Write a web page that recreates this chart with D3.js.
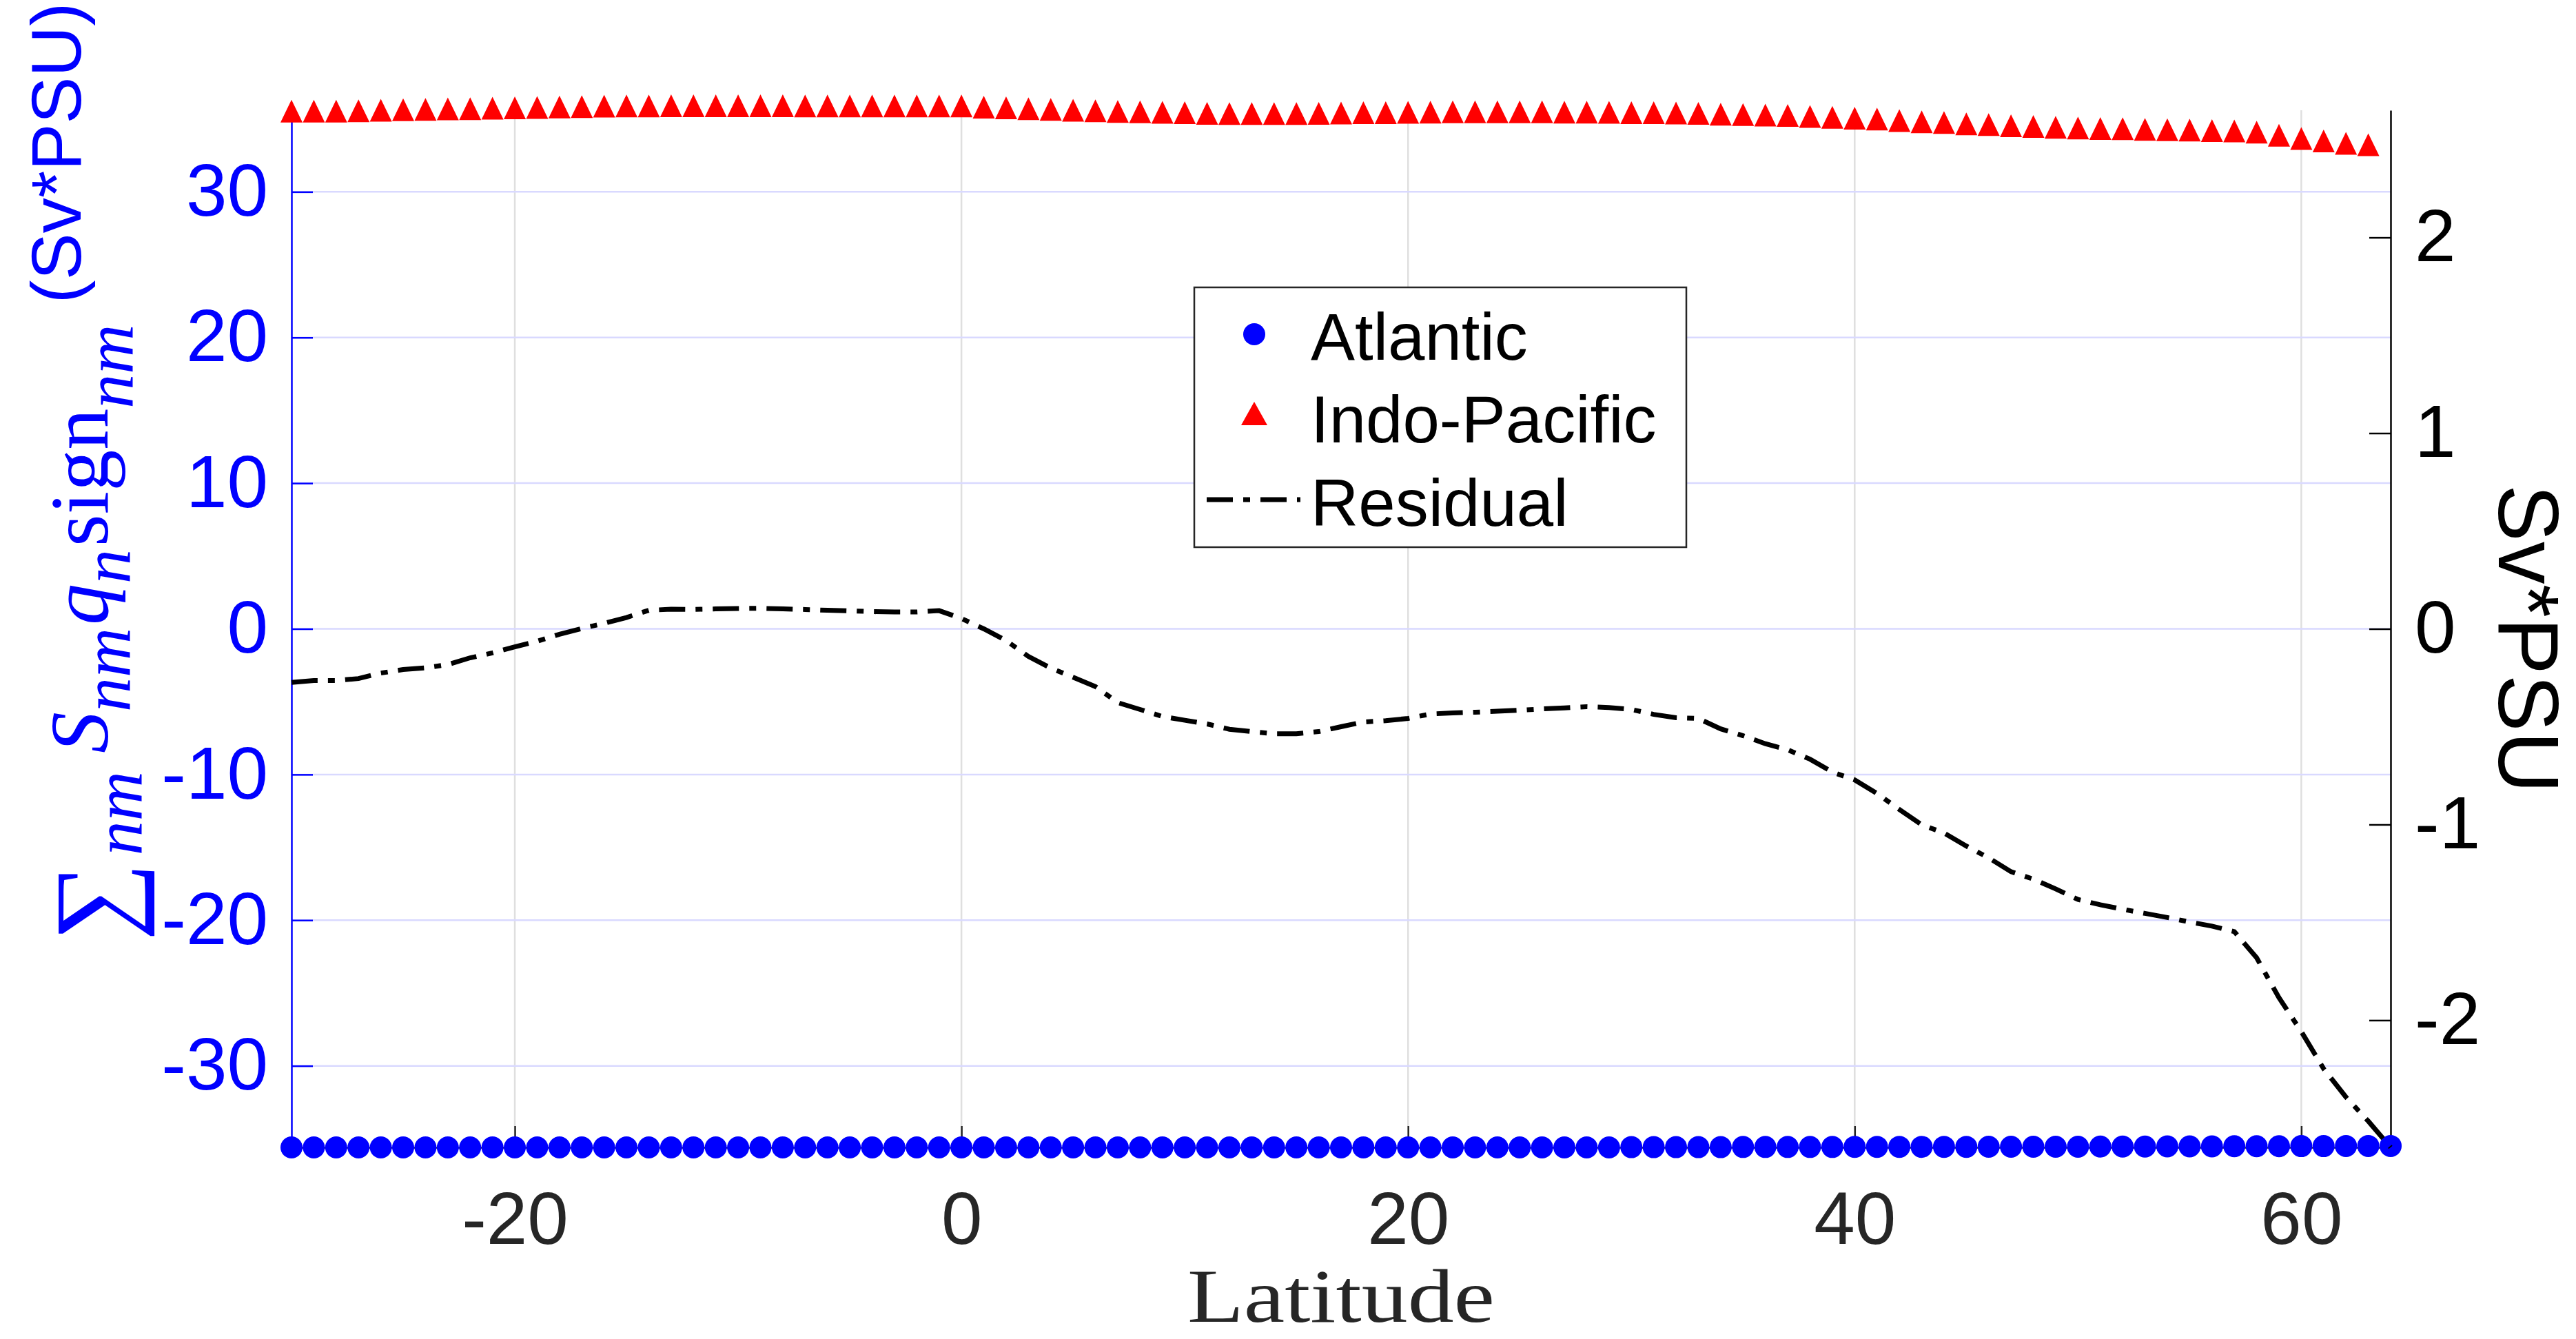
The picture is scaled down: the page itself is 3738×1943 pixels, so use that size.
<!DOCTYPE html>
<html>
<head>
<meta charset="utf-8">
<script src="https://cdn.jsdelivr.net/npm/d3@7"></script>
<style>
  html, body { margin: 0; padding: 0; background: #ffffff; }
  svg { display: block; }
</style>
</head>
<body>
<svg id="chart" width="3738" height="1943"></svg>
<script>
"use strict";

// latitude of every sample (deg)
const latitude = [
    -30, -29, -28, -27, -26, -25, -24, -23, -22, -21, -20, -19, -18, -17, -16, -15,
    -14, -13, -12, -11, -10, -9, -8, -7, -6, -5, -4, -3, -2, -1, 0,
    1, 2, 3, 4, 5, 6, 7, 8, 9, 10, 11, 12, 13, 14, 15, 16, 17, 18, 19, 20,
    21, 22, 23, 24, 25, 26, 27, 28, 29, 30, 31, 32, 33, 34, 35, 36, 37, 38, 39, 40,
    41, 42, 43, 44, 45, 46, 47, 48, 49, 50, 51, 52, 53, 54, 55, 56, 57, 58, 59, 60,
    61, 62, 63, 64
];

// left axis (Sv*PSU)
const atlantic = [
    -35.6, -35.6, -35.6, -35.6, -35.6, -35.6, -35.6, -35.6, -35.6, -35.6, -35.6, -35.6, -35.6, -35.6, -35.6, -35.6,
    -35.6, -35.6, -35.6, -35.6, -35.6, -35.6, -35.6, -35.6, -35.6, -35.6, -35.6, -35.6, -35.6, -35.6, -35.6,
    -35.6, -35.6, -35.6, -35.6, -35.6, -35.6, -35.6, -35.6, -35.6, -35.6, -35.6, -35.6, -35.6, -35.6, -35.6, -35.6, -35.6, -35.6, -35.6, -35.6,
    -35.6, -35.6, -35.6, -35.6, -35.6, -35.6, -35.6, -35.6, -35.6, -35.58, -35.58, -35.58, -35.58, -35.58, -35.57, -35.57, -35.57, -35.57, -35.57, -35.56,
    -35.56, -35.56, -35.56, -35.56, -35.56, -35.55, -35.55, -35.55, -35.55, -35.55, -35.54, -35.54, -35.54, -35.53, -35.53, -35.53, -35.52, -35.52, -35.52, -35.51,
    -35.51, -35.5, -35.5, -35.5
];

const indoPacific = [
    35.54, 35.54, 35.54, 35.57, 35.60, 35.63, 35.66, 35.70, 35.71, 35.74, 35.76, 35.79, 35.82, 35.85, 35.88, 35.90,
    35.90, 35.91, 35.91, 35.91, 35.91, 35.91, 35.91, 35.90, 35.90, 35.90, 35.90, 35.90, 35.90, 35.90, 35.89,
    35.81, 35.76, 35.71, 35.66, 35.60, 35.57, 35.52, 35.49, 35.46, 35.43, 35.39, 35.38, 35.37, 35.37, 35.37, 35.39, 35.41, 35.43, 35.44, 35.46,
    35.47, 35.49, 35.49, 35.49, 35.49, 35.49, 35.47, 35.47, 35.46, 35.44, 35.43, 35.41, 35.39, 35.33, 35.30, 35.27, 35.24, 35.18, 35.11, 35.06,
    35.00, 34.89, 34.81, 34.76, 34.67, 34.62, 34.54, 34.49, 34.43, 34.38, 34.35, 34.34, 34.29, 34.26, 34.24, 34.21, 34.18, 34.10, 33.88, 33.66,
    33.50, 33.33, 33.23
];

// right axis (Sv*PSU)
const residual = [
    -0.274, -0.264, -0.264, -0.254, -0.226, -0.208, -0.199, -0.183, -0.148, -0.123, -0.092, -0.063, -0.028, 0.002, 0.028, 0.058,
    0.095, 0.100, 0.099, 0.102, 0.104, 0.105, 0.102, 0.099, 0.095, 0.092, 0.088, 0.086, 0.086, 0.093, 0.053,
    0.000, -0.060, -0.141, -0.201, -0.247, -0.295, -0.377, -0.412, -0.448, -0.467, -0.486, -0.513, -0.525, -0.536, -0.536, -0.525, -0.500, -0.476, -0.469, -0.458,
    -0.435, -0.430, -0.426, -0.421, -0.416, -0.409, -0.404, -0.398, -0.402, -0.412, -0.437, -0.454, -0.458, -0.511, -0.546, -0.587, -0.618, -0.666, -0.732, -0.772,
    -0.841, -0.923, -1.001, -1.043, -1.110, -1.170, -1.241, -1.279, -1.329, -1.383, -1.410, -1.433, -1.454, -1.475, -1.498, -1.519, -1.547, -1.681, -1.885, -2.058,
    -2.248, -2.393, -2.516, -2.65
];

const xTicks = [-20, 0, 20, 40, 60];
const leftTicks = [-30, -20, -10, 0, 10, 20, 30];
const rightTicks = [-2, -1, 0, 1, 2];
const seriesNames = ["Atlantic", "Indo-Pacific", "Residual"];

window.addEventListener("load", drawChart);

function drawChart() {
    const svg = d3.select("#chart");
    const Box = {LEFT: 423, RIGHT: 3469, TOP: 160, BOTTOM: 1665};
    const SANS = "'Liberation Sans', Arial, Helvetica, sans-serif";
    const SERIF = "'Liberation Serif', 'Times New Roman', serif";
    const BLUE = "#0000ff";
    const DARK = "#262626";
    const DASH = "38,15,10,15";

    const x = d3.scaleLinear().domain([-30, 64]).range([Box.LEFT, Box.RIGHT]);
    const yLeft = d3.scaleLinear().domain([-35.6, 35.6]).range([Box.BOTTOM, Box.TOP]);
    const yRight = d3.scaleLinear().domain([-2.65, 2.65]).range([Box.BOTTOM, Box.TOP]);

    // grid lines
    svg.append("g").selectAll("line")
        .data(xTicks)
        .enter().append("line")
        .attr("x1", d => x(d)).attr("x2", d => x(d))
        .attr("y1", Box.TOP).attr("y2", Box.BOTTOM)
        .attr("stroke", "#dfdfdf").attr("stroke-width", 2.5);
    svg.append("g").selectAll("line")
        .data(leftTicks)
        .enter().append("line")
        .attr("x1", Box.LEFT).attr("x2", Box.RIGHT)
        .attr("y1", d => yLeft(d)).attr("y2", d => yLeft(d))
        .attr("stroke", "#d9d9ff").attr("stroke-width", 2.5);

    // axes, ticks pointing inward like matlab
    const xAxis = svg.append("g")
        .attr("transform", `translate(0, ${Box.BOTTOM})`)
        .call(d3.axisBottom(x).tickValues(xTicks).tickFormat(d => String(d))
            .tickSizeInner(-31).tickSizeOuter(0).tickPadding(64));
    styleAxis(xAxis, DARK, 107);

    const leftAxis = svg.append("g")
        .attr("transform", `translate(${Box.LEFT}, 0)`)
        .call(d3.axisLeft(yLeft).tickValues(leftTicks).tickFormat(d => String(d))
            .tickSizeInner(-31).tickSizeOuter(0).tickPadding(34));
    styleAxis(leftAxis, BLUE, 107);

    const rightAxis = svg.append("g")
        .attr("transform", `translate(${Box.RIGHT}, 0)`)
        .call(d3.axisRight(yRight).tickValues(rightTicks).tickFormat(d => String(d))
            .tickSizeInner(-31).tickSizeOuter(0).tickPadding(35));
    styleAxis(rightAxis, "#000000", 107);

    // Atlantic circles
    svg.append("g").selectAll("circle")
        .data(atlantic)
        .enter().append("circle")
        .attr("cx", (d, i) => x(latitude[i]))
        .attr("cy", d => yLeft(d))
        .attr("r", 16)
        .attr("fill", BLUE);

    // Indo-Pacific triangles
    const tri = "M0,-16.5L16,16.5L-16,16.5Z";
    svg.append("g").selectAll("path")
        .data(indoPacific)
        .enter().append("path")
        .attr("d", tri)
        .attr("transform", (d, i) => `translate(${x(latitude[i])}, ${yLeft(d)})`)
        .attr("fill", "#ff0000");

    // Residual on the right axis
    const line = d3.line()
        .x((d, i) => x(latitude[i]))
        .y(d => yRight(d));
    svg.append("path")
        .datum(residual)
        .attr("fill", "none")
        .attr("stroke", "#000000")
        .attr("stroke-width", 7)
        .attr("stroke-dasharray", DASH)
        .attr("d", line);

    // x label
    svg.append("text")
        .attr("x", (Box.LEFT + Box.RIGHT) / 2)
        .attr("y", 1918)
        .attr("text-anchor", "middle")
        .attr("font-family", SERIF)
        .attr("font-size", 110)
        .attr("textLength", 446)
        .attr("lengthAdjust", "spacingAndGlyphs")
        .attr("fill", DARK)
        .text("Latitude");

    // right label
    svg.append("text")
        .attr("transform", `translate(3626, 927) rotate(90)`)
        .attr("text-anchor", "middle")
        .attr("font-family", SANS)
        .attr("font-size", 124)
        .attr("fill", "#000000")
        .text("Sv*PSU");

    // left label: units line
    svg.append("text")
        .attr("transform", `translate(117, 222) rotate(-90)`)
        .attr("text-anchor", "middle")
        .attr("font-family", SANS)
        .attr("font-size", 102)
        .attr("fill", BLUE)
        .text("(Sv*PSU)");

    // left label: sum_nm S_nm q_n sign_nm
    const mathLabel = svg.append("text")
        .attr("transform", `translate(156, 918) rotate(-90)`)
        .attr("text-anchor", "middle")
        .attr("font-family", SERIF)
        .attr("font-size", 120)
        .attr("fill", BLUE);
    mathLabel.append("tspan").attr("font-size", 160).attr("dy", 34).text("\u2211");
    mathLabel.append("tspan").attr("font-style", "italic").attr("font-size", 100).attr("dy", 15).attr("dx", 10).text("nm");
    mathLabel.append("tspan").attr("font-style", "italic").attr("dy", -49).attr("dx", 26).text("S");
    mathLabel.append("tspan").attr("font-style", "italic").attr("font-size", 100).attr("dy", 32).text("nm");
    mathLabel.append("tspan").attr("font-style", "italic").attr("dy", -32).attr("dx", 4).text("q");
    mathLabel.append("tspan").attr("font-style", "italic").attr("font-size", 100).attr("dy", 32).text("n");
    mathLabel.append("tspan").attr("dy", -32).attr("dx", 4).text("sign");
    mathLabel.append("tspan").attr("font-style", "italic").attr("font-size", 100).attr("dy", 36).text("nm");

    // legend
    const legend = svg.append("g");
    legend.append("rect")
        .attr("x", 1733).attr("y", 417)
        .attr("width", 714).attr("height", 377)
        .attr("fill", "#ffffff")
        .attr("stroke", DARK).attr("stroke-width", 2.5);
    const rowY = [485, 604, 725];
    legend.append("circle").attr("cx", 1820).attr("cy", rowY[0]).attr("r", 16).attr("fill", BLUE);
    legend.append("path").attr("d", "M0,-17L19,17L-19,17Z")
        .attr("transform", `translate(1820, ${rowY[1] - 4})`).attr("fill", "#ff0000");
    legend.append("line")
        .attr("x1", 1751).attr("x2", 1887).attr("y1", rowY[2]).attr("y2", rowY[2])
        .attr("stroke", "#000000").attr("stroke-width", 7)
        .attr("stroke-dasharray", DASH);
    legend.selectAll("text.entry")
        .data(seriesNames)
        .enter().append("text")
        .attr("class", "entry")
        .attr("x", 1902)
        .attr("y", (d, i) => [522, 642, 763][i])
        .attr("font-family", SANS)
        .attr("font-size", 96)
        .attr("fill", "#000000")
        .text(d => d);

    function styleAxis(g, color, size) {
        g.select(".domain").attr("stroke", color).attr("stroke-width", 2.5);
        g.selectAll(".tick line").attr("stroke", color).attr("stroke-width", 2.5);
        g.selectAll(".tick text")
            .attr("fill", color)
            .attr("font-family", SANS)
            .attr("font-size", size);
    }
}
</script>
</body>
</html>
